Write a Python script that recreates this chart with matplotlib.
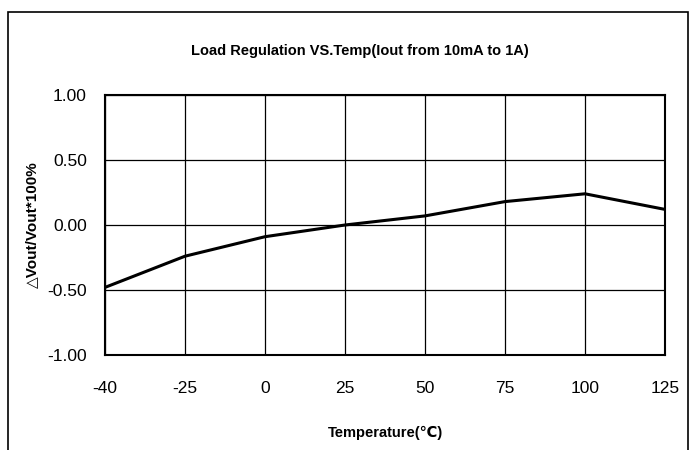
import matplotlib
matplotlib.use("Agg")
import matplotlib.pyplot as plt
from matplotlib.patches import Rectangle

categories = ["-40", "-25", "0", "25", "50", "75", "100", "125"]
values = [-0.48, -0.24, -0.09, 0.00, 0.07, 0.18, 0.24, 0.12]
yticks = [-1.0, -0.5, 0.0, 0.5, 1.0]
ytick_labels = ["-1.00", "-0.50", "0.00", "0.50", "1.00"]

fam = ["Liberation Sans", "DejaVu Sans", "Noto Sans CJK SC"]
plt.rcParams["font.family"] = fam

W, H = 697, 450
fig = plt.figure(figsize=(W / 100, H / 100), dpi=100)
ax = fig.add_axes([105 / W, 1 - 355 / H, (665 - 105) / W, (355 - 95) / H])

x = list(range(len(categories)))
ax.plot(x, values, color="black", linewidth=2.2, solid_joinstyle="miter")

ax.set_xlim(0, len(categories) - 1)
ax.set_ylim(-1.0, 1.0)
ax.set_xticks(x)
ax.set_xticklabels(categories, fontsize=12.5)
ax.set_yticks(yticks)
ax.set_yticklabels(ytick_labels, fontsize=12.5)
ax.tick_params(axis="y", length=0, pad=13)
ax.tick_params(axis="x", length=0, pad=19)
ax.grid(True, color="black", linewidth=0.9)
for s in ax.spines.values():
    s.set_linewidth(1.5)
    s.set_color("black")

ax.set_xlabel("Temperature(℃)", fontsize=10.5, fontweight="bold", family=fam, labelpad=21)
ax.set_ylabel("△Vout/Vout*100%", fontsize=11, fontweight="bold", family=fam, labelpad=6)

fig.text(360 / W, 1 - 51 / H, "Load Regulation VS.Temp(Iout from 10mA to 1A)",
         ha="center", va="center", fontsize=10.5, fontweight="bold")

frame = Rectangle((8 / W, -0.05), (688 - 8) / W, 1 - 12 / H + 0.05,
                  transform=fig.transFigure, fill=False, edgecolor="black",
                  linewidth=1.2, clip_on=False)
fig.patches.append(frame)

fig.savefig("out.png", dpi=100)
